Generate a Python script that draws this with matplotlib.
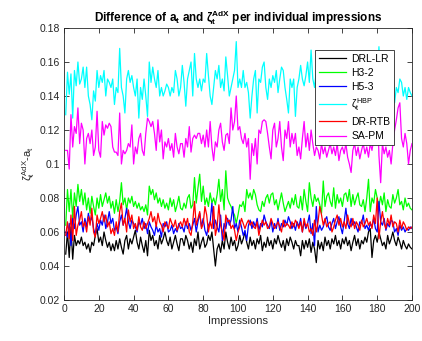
import numpy as np
import matplotlib
matplotlib.use("Agg")
import matplotlib.pyplot as plt

plt.rcParams['font.family'] = ['Liberation Sans', 'DejaVu Sans']
plt.rcParams['mathtext.fontset'] = 'custom'
plt.rcParams['mathtext.rm'] = 'Liberation Sans'
plt.rcParams['mathtext.it'] = 'Liberation Sans'
plt.rcParams['mathtext.bf'] = 'Liberation Sans:bold'

# values in units of 0.001
drl_lr = [47,60,45,63,44,58,52,55,53,57,52,54,50,53,48,54,52,58,62,54,
          57,52,60,55,51,54,49,53,49,55,50,56,51,47,55,58,50,56,53,57,
          61,54,50,57,52,48,55,46,61,55,58,52,55,50,58,53,56,60,55,52,57,50,54,58,53,49,56,
          56,52,58,55,50,54,48,56,52,60,50,54,57,51,53,58,55,60,50,40,
          50,53,48,55,50,60,54,50,57,52,55,49,52,58,53,56,60,54,50,57,
          52,55,50,56,53,58,49,54,51,57,52,55,50,56,53,58,54,51,55,49,56,52,57,54,50,55,52,
          52,46,55,50,55,51,56,48,54,50,42,55,50,54,49,57,52,55,50,56,
          53,58,52,55,50,56,53,57,52,55,49,54,58,52,56,50,55,53,57,54,
          60,62,45,55,58,54,60,56,52,54,50,58,53,56,60,55,52,57,54,50,55,52,50,53,51,50]

h3_2 = [64,85,72,85,68,83,75,88,78,85,76,83,73,80,71,81,75,70,80,74,
        82,75,79,83,77,81,74,78,71,79,72,78,89,76,80,73,80,77,81,75,
        78,74,77,73,75,72,76,70,87,82,85,79,83,77,80,75,79,74,77,73,80,75,79,72,76,81,74,
        73,77,74,80,82,74,76,92,77,86,94,78,87,76,80,75,83,77,80,76,
        82,91,78,85,73,96,80,77,75,72,70,65,70,76,75,78,72,85,80,83,
        79,85,82,76,73,72,78,75,80,82,77,82,83,76,79,73,78,83,77,72,75,78,74,80,76,82,75,
        74,81,73,85,78,72,89,80,75,82,78,80,76,71,90,75,81,83,78,75,
        86,74,82,77,80,75,82,83,78,85,75,82,76,80,83,76,75,79,72,80,
        91,72,80,77,85,80,75,81,76,83,72,79,75,74,82,77,80,85,76,78,73,80,75,77,74,73]

h5_3 = [60,57,65,52,68,62,70,75,64,66,60,68,63,71,66,69,62,58,65,61,
        67,64,70,62,66,72,65,68,61,63,59,66,70,64,68,74,66,62,67,65,
        63,60,66,64,68,62,65,59,66,63,61,58,64,60,62,57,65,63,66,60,61,64,59,62,60,65,62,
        63,60,66,62,65,61,64,68,60,66,71,63,68,61,58,64,66,77,62,67,
        63,60,70,55,65,62,68,64,67,75,62,65,60,67,63,58,61,55,64,67,
        62,66,63,68,61,65,63,70,66,64,62,67,60,65,62,68,61,65,63,67,64,69,66,62,65,61,66,
        63,68,60,66,62,65,70,59,65,52,75,60,64,61,63,67,69,63,61,65,
        68,62,66,69,63,59,66,74,65,62,68,64,66,63,60,66,65,70,62,64,
        61,65,63,68,62,60,78,66,64,68,61,65,63,67,66,60,62,58,64,61,63,60,62,61,63,62]

zeta_hbp = [129,154,141,153,127,155,146,160,147,150,157,145,157,140,135,126,143,137,155,145,
            152,148,155,140,150,148,145,150,135,145,142,168,145,140,130,150,155,148,152,145,
            140,150,127,145,138,150,140,128,160,148,157,150,145,155,140,145,140,143,147,145,
            140,145,142,155,150,140,145,158,148,134,150,155,160,140,165,150,145,150,143,150,
            148,165,152,140,135,145,155,150,158,145,150,143,163,152,140,145,150,155,172,145,
            150,145,155,145,148,142,127,140,150,155,130,150,148,157,160,145,138,150,145,152,
            148,155,142,150,157,155,145,138,130,150,145,150,128,
            145,150,158,150,146,152,160,148,167,150,145,155,148,152,143,150,155,
            148,140,152,145,150,155,142,148,155,150,145,153,148,140,150,155,147,145,152,150,
            146,155,150,143,148,152,145,160,150,148,169,145,150,140,138,145,150,152,140,136,
            145,142,150,148,140,145,138,145,142,140]

dr_rtb = [58,66,56,70,55,75,58,64,67,72,63,66,60,69,64,74,60,57,70,65,
          68,72,66,70,63,66,59,62,58,66,60,72,77,64,68,60,73,66,70,62,
          65,61,69,63,61,66,62,65,68,72,66,69,63,71,66,64,60,66,64,62,68,65,63,67,61,64,66,
          63,68,64,68,60,58,66,78,64,68,72,62,65,75,70,60,66,62,75,58,
          63,76,64,60,55,70,66,67,62,64,61,55,60,63,68,65,62,65,67,64,
          66,63,62,66,58,63,67,64,66,62,63,68,65,62,64,66,63,60,67,63,65,64,62,66,63,67,65,
          62,66,60,68,63,65,60,62,58,67,60,66,75,70,64,68,63,65,66,60,
          63,67,70,64,68,63,66,62,70,65,63,68,62,66,64,61,67,63,65,68,
          64,66,62,70,65,80,56,66,72,65,62,68,64,70,63,66,65,60,67,62,66,64,61,63,62,63]

sa_pm = [108,108,97,129,110,122,118,133,112,124,120,100,115,118,112,120,105,110,131,108,
         104,125,117,123,121,124,122,110,107,107,105,130,100,108,106,108,112,110,123,100,
         110,106,115,118,108,105,118,127,125,122,125,118,108,126,113,120,103,113,110,115,108,112,104,118,110,106,112,
         112,104,115,110,122,107,115,117,115,118,118,112,117,110,120,110,125,110,102,113,
         110,120,124,113,108,117,118,112,133,120,125,140,120,122,115,112,118,110,115,91,
         112,105,115,100,120,118,125,126,125,118,110,103,120,124,110,115,125,110,102,120,115,125,110,118,112,118,105,
         110,103,115,125,110,118,108,120,112,105,110,108,103,112,106,110,104,108,112,106,
         110,105,112,102,108,110,106,112,104,100,95,108,112,105,110,103,108,112,106,110,
         104,112,108,115,120,140,105,89,112,106,110,104,108,100,112,120,126,133,136,115,110,118,112,100,108,112]

series = [
    (drl_lr, 'DRL-LR', '#000000'),
    (h3_2, 'H3-2', '#00ff00'),
    (h5_3, 'H5-3', '#0000ff'),
    (zeta_hbp, r'$\zeta_t^{HBP}$', '#00ffff'),
    (dr_rtb, 'DR-RTB', '#ff0000'),
    (sa_pm, 'SA-PM', '#ff00ff'),
]

W, H = 422, 341
fig = plt.figure(figsize=(W/100, H/100), dpi=100)
ax = fig.add_axes([64/W, 1-300/H, (412-64)/W, (300-28)/H])

for vals, lab, col in series:
    y = np.array(vals) / 1000.0
    x = np.arange(1, len(y)+1)
    ax.plot(x, y, color=col, lw=0.9, label=lab)

ax.set_xlim(0, 200)
ax.set_ylim(0.02, 0.18)
ax.set_xticks(np.arange(0, 201, 20))
ax.set_yticks(np.arange(0.02, 0.181, 0.02))
ax.set_yticklabels(['0.02', '0.04', '0.06', '0.08', '0.1', '0.12', '0.14', '0.16', '0.18'])
ax.tick_params(direction='in', length=3.5, width=0.6, top=True, right=True,
               labelsize=7.5, colors='#262626', pad=3)
for s in ax.spines.values():
    s.set_linewidth(0.6)
    s.set_color('#262626')

ax.set_xlabel('Impressions', fontsize=8, color='#262626', labelpad=1)
ax.set_ylabel(r'$\zeta_t^{AdX}$-$a_t$', fontsize=8, color='#262626', labelpad=2)
ax.set_title(r'Difference of $\mathbf{a_t}$ and $\mathbf{\zeta_t^{AdX}}$ per individual impressions',
             fontsize=8.5, fontweight='bold', pad=5)

leg = ax.legend(loc='upper right', bbox_to_anchor=(394/W, 1-50/H), bbox_transform=fig.transFigure,
                fontsize=7.5, frameon=True, fancybox=False, edgecolor='#262626',
                handlelength=2.6, handletextpad=0.5, labelspacing=0.4, borderpad=0.35,
                borderaxespad=0)
leg.get_frame().set_linewidth(0.6)
leg.get_frame().set_alpha(1)

fig.savefig('out.png', dpi=100)
